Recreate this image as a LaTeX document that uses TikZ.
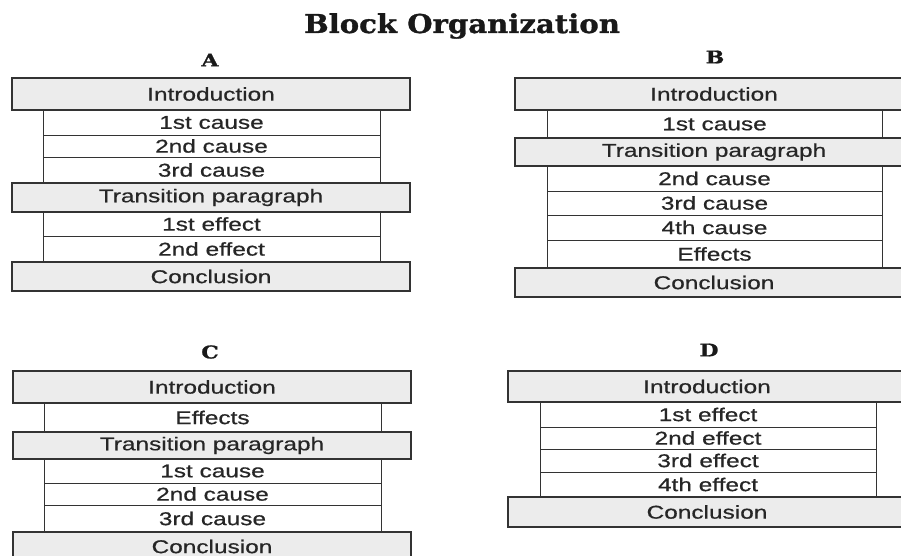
\documentclass[tikz,border=0pt]{standalone}
\usepackage{fontspec}
\newfontfamily\boxfont[FakeStretch=1.32,FakeBold=0.6]{Liberation Sans}
\newfontfamily\headfont[FakeStretch=1.12,FakeBold=1.2]{DejaVu Serif}
\newfontfamily\lblfont[FakeStretch=1.25,FakeBold=1.2]{DejaVu Serif}
\begin{document}
\begin{tikzpicture}[x=1pt,y=-1pt,
  blk/.style={draw=black!80, anchor=north west, inner sep=0pt, outer sep=0pt,
    font=\boxfont\fontsize{18.5}{20}\selectfont, text=black!85},
  outerbox/.style={blk, fill=gray!15, line width=1.1pt, minimum width=398pt},
  innerbox/.style={blk, fill=white, line width=0.8pt},
  ttl/.style={font=\headfont\bfseries\fontsize{26}{28}\selectfont, text=black!90},
  lbl/.style={font=\lblfont\bfseries\fontsize{17.5}{19}\selectfont, text=black!90}]
\clip (0,0) rectangle (901,556);
\fill[white] (0,0) rectangle (901,556);
\node[ttl] (title) at (462,26) {Block Organization};
% Panel A
\node[lbl] (labA) at (210,60) {A};
\node[innerbox, minimum width=337pt, minimum height=25pt] (Ac1) at (43,110) {1st cause};
\node[innerbox, minimum width=337pt, minimum height=22pt] (Ac2) at (43,135) {2nd cause};
\node[innerbox, minimum width=337pt, minimum height=26pt] (Ac3) at (43,157) {3rd cause};
\node[innerbox, minimum width=337pt, minimum height=24pt] (Ae1) at (43,212) {1st effect};
\node[innerbox, minimum width=337pt, minimum height=26pt] (Ae2) at (43,236) {2nd effect};
\node[outerbox, minimum height=32pt] (Aint) at (12,78) {Introduction};
\node[outerbox, minimum height=29pt] (Atr) at (12,183) {Transition paragraph};
\node[outerbox, minimum height=29pt] (Acon) at (12,262) {Conclusion};
% Panel B
\node[lbl] (labB) at (715,57) {B};
\node[innerbox, minimum width=335pt, minimum height=28pt] (Bc1) at (547,110) {1st cause};
\node[innerbox, minimum width=335pt, minimum height=25pt] (Bc2) at (547,166) {2nd cause};
\node[innerbox, minimum width=335pt, minimum height=24pt] (Bc3) at (547,191) {3rd cause};
\node[innerbox, minimum width=335pt, minimum height=25pt] (Bc4) at (547,215) {4th cause};
\node[innerbox, minimum width=335pt, minimum height=28pt] (Bef) at (547,240) {Effects};
\node[outerbox, minimum height=32pt] (Bint) at (515,78) {Introduction};
\node[outerbox, minimum height=28pt] (Btr) at (515,138) {Transition paragraph};
\node[outerbox, minimum height=29pt] (Bcon) at (515,268) {Conclusion};
% Panel C
\node[lbl] (labC) at (210,352) {C};
\node[innerbox, minimum width=337pt, minimum height=29pt] (Cef) at (44,403) {Effects};
\node[innerbox, minimum width=337pt, minimum height=24pt] (Cc1) at (44,459) {1st cause};
\node[innerbox, minimum width=337pt, minimum height=22pt] (Cc2) at (44,483) {2nd cause};
\node[innerbox, minimum width=337pt, minimum height=27pt] (Cc3) at (44,505) {3rd cause};
\node[outerbox, minimum height=32pt] (Cint) at (13,371) {Introduction};
\node[outerbox, minimum height=27pt] (Ctr) at (13,432) {Transition paragraph};
\node[outerbox, minimum height=29pt] (Ccon) at (13,532) {Conclusion};
% Panel D
\node[lbl] (labD) at (709,350) {D};
\node[innerbox, minimum width=336pt, minimum height=25pt] (De1) at (540,402) {1st effect};
\node[innerbox, minimum width=336pt, minimum height=22pt] (De2) at (540,427) {2nd effect};
\node[innerbox, minimum width=336pt, minimum height=23pt] (De3) at (540,449) {3rd effect};
\node[innerbox, minimum width=336pt, minimum height=25pt] (De4) at (540,472) {4th effect};
\node[outerbox, minimum height=31pt] (Dint) at (508,371) {Introduction};
\node[outerbox, minimum height=30pt] (Dcon) at (508,497) {Conclusion};
\end{tikzpicture}
\end{document}
